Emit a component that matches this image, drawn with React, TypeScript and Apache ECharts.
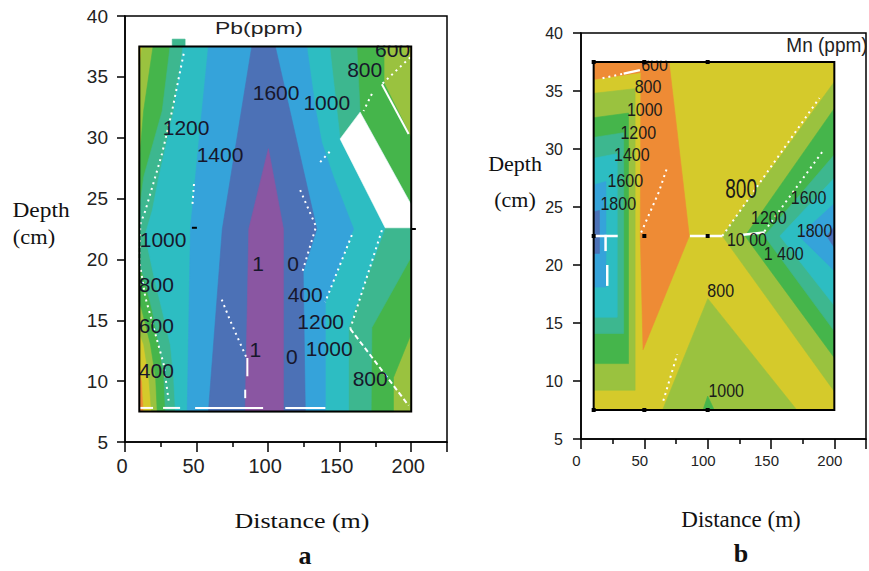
import { useEffect, useRef } from 'react';
import * as echarts from 'echarts';

type Pt = [number, number];
type Label = [string, number, number];

// ---------------- shared axes ----------------
const distanceTickLabels = [0, 50, 100, 150, 200];
const distanceRange: Pt = [0, 225];
const depthRange: Pt = [5, 40];
const distanceStep = 50;
const depthStep = 5;
const sampleFrame: Pt[] = [[10, 7.5], [200, 7.5], [200, 37.5], [10, 37.5]];

// ---------------- panel a : Pb (ppm) — regions with value >= level ----------------
const pbGe400: Pt[] = [[10, 37.5], [10, 11], [11.9, 10], [13, 7.5], [200, 7.5], [200, 37.5]];
const pbGe600: Pt[] = [[10, 37.5], [10, 14], [13.1, 13], [16.6, 10.3], [18.5, 7.5], [200, 7.5], [200, 36.3], [196, 37.5]];
const pbGe800: Pt[] = [[19.6, 37.5], [13, 32.2], [10, 28], [10, 16.5], [11.9, 15.8], [17.8, 13], [21.4, 10.3], [22.5, 7.5], [187.6, 7.5], [187.6, 10.3], [200, 13.9], [200, 30], [181, 34.5], [181, 37.5]];
const pbGe1000: Pt[] = [[31.5, 37.5], [26, 32.2], [13.1, 26.8], [10, 24], [10, 19.5], [13.1, 18.6], [19, 15.8], [23.7, 13], [27.2, 10.3], [28.2, 7.5], [172, 7.5], [172.5, 14.4], [200, 20.2], [200, 24.5], [164.3, 32.1], [162, 37.5]];
const pbGe1200: Pt[] = [[40.6, 37.5], [34, 32.2], [23.7, 26.8], [19, 24], [14, 22], [20.2, 18.6], [26, 15.8], [31.7, 13], [34, 10.3], [35.2, 7.5], [156.2, 7.5], [156.2, 14.4], [181.8, 22.6], [150.3, 29.9], [143, 37.5]];
const pbGe1400: Pt[] = [[58.3, 37.5], [51.5, 29.5], [45.7, 22.5], [43.5, 7.5], [140, 7.5], [140, 16.5], [159.7, 22.5], [145.6, 26.8], [137.5, 29.6], [132.9, 32.5], [127, 37.5]];
const pbGe1600: Pt[] = [[88.6, 37.5], [68, 22.5], [58.3, 7.5], [126, 7.5], [124.5, 19], [134, 22.5], [105, 37.5]];
const pbGe1800: Pt[] = [[100.2, 29.1], [86.5, 22.5], [84, 7.5], [110.7, 7.5], [110.7, 22.5]];
const pbBlank: Pt[] = [[164.3, 32.1], [150.3, 29.9], [181.8, 22.6], [200, 22.6], [200, 24.5]];
const pbCornerTL: Pt[] = [[10, 37.5], [11.5, 37.5], [10, 36]];
const pbTopTab: Pt[] = [[33, 37.5], [42, 37.5], [42, 38.1], [33, 38.1]];
const pbTopCover: Pt[] = [[10, 37.6], [200, 37.6], [200, 38.45], [10, 38.45]];

const pbDotted: Pt[][] = [
  [[41, 36.9], [32.9, 32.2], [25.9, 28.7], [14.2, 24], [10.7, 22.9], [10, 19.9], [14.2, 16.9], [21.2, 13.9], [27, 11.4], [30.5, 8.4]],
  [[48.2, 26.2], [47, 24.3]],
  [[67.6, 16.7], [73.4, 15], [85, 11.9]],
  [[122.4, 25.7], [133.5, 22.7], [124, 19]],
  [[158.5, 22], [139.9, 16.5]],
  [[179.5, 22.4], [157.4, 14.3]],
  [[199.3, 36.6], [179.5, 34.4]],
  [[136.4, 28], [143.4, 28.9]],
  [[172.5, 33.6], [166.7, 32.2]],
];
const pbSolid: Pt[][] = [
  [[85.5, 11.9], [85.5, 10.4]],
  [[84, 9.3], [84, 8.6]],
  [[179.5, 34.4], [198.2, 30.3]],
  [[10.5, 7.8], [19.6, 7.8]],
  [[26.6, 7.8], [38.5, 7.8]],
  [[49, 7.8], [96.5, 7.8]],
  [[112, 7.8], [140, 7.8]],
];
const pbDashed: Pt[][] = [[[157.4, 14.3], [198.2, 8]]];

const pbLabels: Label[] = [
  ['1600', 105.6, 33.7], ['1000', 141, 32.9], ['800', 167.5, 35.6], ['600', 187, 37.25],
  ['1200', 42.7, 30.8], ['1400', 66.4, 28.6], ['1000', 26.6, 21.6], ['800', 21.9, 17.9],
  ['600', 21.9, 14.6], ['400', 21.9, 10.9], ['1', 93, 19.7], ['0', 117.5, 19.7],
  ['400', 125.9, 17.1], ['1200', 136.7, 14.9], ['1', 91, 12.6], ['0', 116.6, 12],
  ['1000', 142.7, 12.7], ['800', 171.3, 10.2],
];
const pbMarks: Pt[] = [[48.5, 22.6], [201.5, 22.5]];

// ---------------- panel b : Mn (ppm) ----------------
const mnLt600: Pt[] = [[10, 37.5], [69.5, 37.5], [85.5, 22.5], [49, 12.7], [46.8, 22.5], [47.3, 36.6], [10, 36]];
const mnGe800: Pt[][] = [
  [[10, 34.8], [42.7, 35.2], [42.7, 9.2], [10, 9.2]],
  [[111.6, 22.5], [200, 35.8], [200, 9.1]],
  [[64.4, 7.5], [100.1, 17.1], [170.4, 7.5]],
];
const mnGe1000: Pt[][] = [
  [[10, 32.7], [37.5, 33.1], [37.5, 11.5], [10, 11.5]],
  [[129.5, 22.5], [200, 33.5], [200, 12]],
  [[96.3, 7.5], [100, 8.7], [105.2, 7.5]],
];
const mnGe1200: Pt[][] = [
  [[10, 31], [33.7, 31.4], [33.7, 14.1], [10, 14.1]],
  [[144.8, 22.5], [200, 29.5], [200, 14.3]],
];
const mnGe1400: Pt[][] = [
  [[10, 29.2], [28.6, 29.6], [28.6, 15.5], [10, 15.5]],
  [[157, 22.5], [200, 27.5], [200, 16.5]],
];
const mnGe1600: Pt[][] = [
  [[10, 26.9], [19.7, 27.2], [19.7, 18.1], [10, 18.1]],
  [[172, 22.5], [200, 25.3], [200, 19.5]],
];
const mnGe1800: Pt[][] = [
  [[10, 24.6], [14.6, 24.7], [14.6, 21], [10, 21]],
  [[194, 22.5], [200, 23.3], [200, 21.5]],
];
const mnTopCover: Pt[] = [[10, 37.65], [200, 37.65], [200, 38.4], [10, 38.4]];

const mnDotted: Pt[][] = [
  [[111.6, 22.5], [188.2, 34.4]],
  [[144.8, 22.9], [190.8, 29.8]],
  [[47.5, 22.8], [61.5, 26.3], [68, 28.4]],
  [[17, 36.1], [33.7, 36.5]],
  [[65, 8.3], [76, 12.3]],
];
const mnSolid: Pt[][] = [
  [[10, 22.5], [29, 22.5]],
  [[86, 22.5], [111.6, 22.5]],
  [[19.4, 22.6], [19.4, 21.2]],
  [[20.7, 20], [20.7, 18.2]],
  [[128, 22.6], [145, 22.8]],
  [[33.7, 36.5], [46.5, 36.8]],
];
const mnLabels: Label[] = [
  ['600', 58, 37.3], ['800', 52.9, 35.4], ['1000', 50.3, 33.4], ['1200', 45.2, 31.4],
  ['1400', 40.1, 29.5], ['1600', 35, 27.3], ['1800', 29.4, 25.3], ['1200', 148.3, 24.1],
  ['1600', 179.7, 25.8], ['1800', 184.4, 23], ['10 00', 131, 22.2], ['1 400', 160, 21],
  ['800', 110.3, 17.8], ['1000', 114.6, 9.2],
];
const mnBigLabels: Label[] = [['800', 126.4, 26.6]];
const mnSamples: Pt[] = [[10, 37.5], [50, 37.5], [100, 37.5], [10, 22.5], [50, 22.5], [100, 22.5], [10, 7.5], [50, 7.5], [100, 7.5]];

// ---------------- styles ----------------
const C = {
  orange: '#EE8B35',
  yellow: '#D5CA2B',
  lgreen: '#9AC23F',
  green: '#45B54B',
  tgreen: '#3DB78F',
  teal: '#2DBDC2',
  lblue: '#35A3DA',
  sblue: '#4C71B6',
  purple: '#8A56A2',
};
const SANS = '"Liberation Sans", Arial, Helvetica, sans-serif';
const SERIF = '"Liberation Serif", "Times New Roman", Times, serif';

type Poly = { pts: Pt[]; color: string };

function fillSeries(gi: number, polys: Poly[], z: number) {
  return {
    type: 'custom',
    coordinateSystem: 'cartesian2d',
    xAxisIndex: gi,
    yAxisIndex: gi,
    silent: true,
    clip: false,
    z,
    data: polys.map((p) => p.pts[0]),
    renderItem: (params: any, api: any) => {
      const p = polys[params.dataIndex];
      return {
        type: 'polygon',
        shape: { points: p.pts.map((q) => api.coord(q)) },
        style: { fill: p.color, stroke: p.color, lineWidth: 0.6 },
      };
    },
  };
}

type LineDef = { pts: Pt[]; color: string; width: number; dash: number[] | null; fill?: string };

function lineSeries(gi: number, lines: LineDef[], z: number) {
  return {
    type: 'custom',
    coordinateSystem: 'cartesian2d',
    xAxisIndex: gi,
    yAxisIndex: gi,
    silent: true,
    clip: false,
    z,
    data: lines.map((l) => l.pts[0]),
    renderItem: (params: any, api: any) => {
      const l = lines[params.dataIndex];
      const pts = l.pts.map((q) => api.coord(q));
      if (l.fill) {
        return { type: 'polygon', shape: { points: pts }, style: { fill: 'none', stroke: l.color, lineWidth: l.width } };
      }
      return {
        type: 'polyline',
        shape: { points: pts },
        style: { fill: 'none', stroke: l.color, lineWidth: l.width, lineDash: l.dash || undefined },
      };
    },
  };
}

function labelSeries(gi: number, labels: Label[], fontSize: number, scaleY: number, color: string, z: number) {
  return {
    type: 'custom',
    coordinateSystem: 'cartesian2d',
    xAxisIndex: gi,
    yAxisIndex: gi,
    silent: true,
    clip: false,
    z,
    data: labels.map((l) => [l[1], l[2]]),
    renderItem: (params: any, api: any) => {
      const l = labels[params.dataIndex];
      const c = api.coord([l[1], l[2]]);
      return {
        type: 'text',
        x: c[0],
        y: c[1],
        scaleY,
        style: {
          text: l[0],
          fill: color,
          fontSize,
          fontFamily: SANS,
          textAlign: 'center',
          textVerticalAlign: 'middle',
          align: 'center',
          verticalAlign: 'middle',
        },
      };
    },
  };
}

function markSeries(gi: number, pts: Pt[], w: number, h: number, z: number) {
  return {
    type: 'custom',
    coordinateSystem: 'cartesian2d',
    xAxisIndex: gi,
    yAxisIndex: gi,
    silent: true,
    clip: false,
    z,
    data: pts,
    renderItem: (params: any, api: any) => {
      const c = api.coord(pts[params.dataIndex]);
      return { type: 'rect', shape: { x: c[0] - w / 2, y: c[1] - h / 2, width: w, height: h }, style: { fill: '#000' } };
    },
  };
}

function xAxisDef(gi: number, fontSize: number, pad: number) {
  return {
    type: 'value',
    gridIndex: gi,
    min: distanceRange[0],
    max: distanceRange[1],
    interval: distanceStep,
    axisLine: { show: true, onZero: false, lineStyle: { color: '#000', width: 1.5 } },
    axisTick: { show: true, length: 10, lineStyle: { color: '#000', width: 1.5 } },
    minorTick: { show: true, splitNumber: 2, length: 5, lineStyle: { color: '#000', width: 1.5 } },
    splitLine: { show: false },
    minorSplitLine: { show: false },
    axisLabel: {
      color: '#222',
      fontSize,
      fontFamily: SANS,
      margin: 14,
      padding: [0, pad, 0, 0],
      formatter: (v: number) => (distanceTickLabels.includes(v) ? String(v) : ''),
    },
  };
}

function yAxisDef(gi: number, fontSize: number, margin: number) {
  return {
    type: 'value',
    gridIndex: gi,
    min: depthRange[0],
    max: depthRange[1],
    interval: depthStep,
    axisLine: { show: true, onZero: false, lineStyle: { color: '#000', width: 1.5 } },
    axisTick: { show: true, length: 8, lineStyle: { color: '#000', width: 1.5 } },
    splitLine: { show: false },
    axisLabel: { color: '#222', fontSize, fontFamily: SANS, margin },
  };
}

function textEl(text: string, x: number, y: number, size: number, family: string, opts: any = {}) {
  return {
    type: 'text',
    x,
    y,
    z: 100,
    scaleX: opts.scaleX ?? 1,
    scaleY: opts.scaleY ?? 1,
    silent: true,
    style: {
      text,
      fill: opts.color ?? '#111',
      fontSize: size,
      fontFamily: family,
      fontWeight: opts.bold ? 'bold' : 'normal',
      textAlign: 'center',
      textVerticalAlign: 'middle',
      align: 'center',
      verticalAlign: 'middle',
    },
  };
}

export default function App() {
  const ref = useRef<HTMLDivElement>(null);
  useEffect(() => {
    document.body.style.margin = '0';
    const chart = echarts.init(ref.current!, undefined, { renderer: 'svg', width: 869, height: 571 });

    const pbFills: Poly[] = [
      { pts: sampleFrame, color: C.orange },
      { pts: pbGe400, color: C.yellow },
      { pts: pbGe600, color: C.lgreen },
      { pts: pbGe800, color: C.green },
      { pts: pbGe1000, color: C.tgreen },
      { pts: pbGe1200, color: C.teal },
      { pts: pbGe1400, color: C.lblue },
      { pts: pbGe1600, color: C.sblue },
      { pts: pbGe1800, color: C.purple },
      { pts: pbBlank, color: '#FFFFFF' },
      { pts: pbCornerTL, color: C.yellow },
    ];
    const mnFills: Poly[] = [
      { pts: sampleFrame, color: C.yellow },
      { pts: mnLt600, color: C.orange },
      ...mnGe800.map((pts) => ({ pts, color: C.lgreen })),
      ...mnGe1000.map((pts) => ({ pts, color: C.green })),
      ...mnGe1200.map((pts) => ({ pts, color: C.tgreen })),
      ...mnGe1400.map((pts) => ({ pts, color: C.teal })),
      ...mnGe1600.map((pts) => ({ pts, color: C.lblue })),
      ...mnGe1800.map((pts) => ({ pts, color: C.sblue })),
    ];

    const pbLines: LineDef[] = [
      ...pbDotted.map((pts) => ({ pts, color: '#fff', width: 2, dash: [2, 4] })),
      ...pbSolid.map((pts) => ({ pts, color: '#fff', width: 2, dash: null })),
      ...pbDashed.map((pts) => ({ pts, color: '#fff', width: 2, dash: [5, 3] })),
    ];
    const mnLines: LineDef[] = [
      ...mnDotted.map((pts) => ({ pts, color: '#fff', width: 2, dash: [2, 4] })),
      ...mnSolid.map((pts) => ({ pts, color: '#fff', width: 2.5, dash: null })),
    ];

    const pbOverlay: Poly[] = [
      { pts: pbTopCover, color: '#FFFFFF' },
      { pts: pbTopTab, color: C.tgreen },
    ];
    const mnOverlay: Poly[] = [{ pts: mnTopCover, color: '#FFFFFF' }];
    const frame: LineDef[] = [{ pts: sampleFrame, color: '#000', width: 2, dash: null, fill: 'none' }];

    const option: any = {
      animation: false,
      backgroundColor: '#fff',
      grid: [
        { left: 125, top: 16, width: 322, height: 426, show: true, borderColor: '#000', borderWidth: 1.5, backgroundColor: 'transparent' },
        { left: 581, top: 33, width: 294, height: 406, show: true, borderColor: '#000', borderWidth: 1.5, backgroundColor: 'transparent' },
      ],
      xAxis: [xAxisDef(0, 20, 6), xAxisDef(1, 15, 9)],
      yAxis: [yAxisDef(0, 19, 17), yAxisDef(1, 16, 18)],
      series: [
        fillSeries(0, pbFills, 1),
        lineSeries(0, pbLines, 2),
        labelSeries(0, pbLabels, 21, 1, '#17172b', 3),
        fillSeries(0, pbOverlay, 4),
        lineSeries(0, frame, 5),
        markSeries(0, pbMarks, 5, 2, 6),
        fillSeries(1, mnFills, 1),
        lineSeries(1, mnLines, 2),
        labelSeries(1, mnLabels, 16, 1.2, '#1a1a1a', 3),
        labelSeries(1, mnBigLabels, 19, 1.45, '#1a1a1a', 3),
        fillSeries(1, mnOverlay, 4),
        lineSeries(1, frame, 5),
        markSeries(1, mnSamples, 4, 4, 6),
      ],
      graphic: [
        textEl('Pb(ppm)', 259, 28, 17, SANS, { scaleX: 1.35, color: '#222' }),
        textEl('Depth', 41, 211, 20, SERIF, { scaleX: 1.17 }),
        textEl('(cm)', 34, 237, 20, SERIF, { scaleX: 1.12 }),
        textEl('Distance (m)', 302, 521, 20, SERIF, { scaleX: 1.3 }),
        textEl('a', 305, 555, 26, SERIF, { bold: true }),
        textEl('Mn (ppm)', 827, 45, 19, SANS, { scaleY: 1.1, color: '#222' }),
        textEl('Depth', 515, 163, 22, SERIF),
        textEl('(cm)', 515, 199, 22, SERIF),
        textEl('Distance (m)', 741, 519, 23, SERIF),
        textEl('b', 741, 553, 26, SERIF, { bold: true }),
      ],
    };
    chart.setOption(option);
    return () => chart.dispose();
  }, []);
  return <div ref={ref} style={{ width: 869, height: 571 }} />;
}
